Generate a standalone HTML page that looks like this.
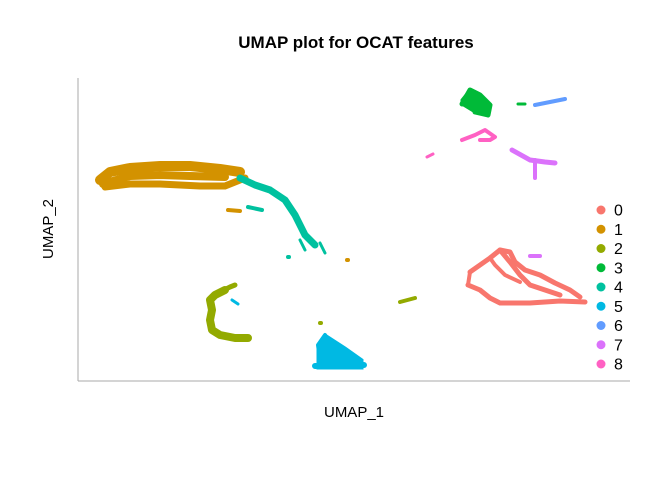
<!DOCTYPE html>
<html><head><meta charset="utf-8"><style>
body{margin:0;background:#fff;font-family:"Liberation Sans",sans-serif}
</style></head><body>
<svg id="c" width="672" height="480" xmlns="http://www.w3.org/2000/svg">
<text x="356" y="48" text-anchor="middle" font-size="17" font-weight="bold">UMAP plot for OCAT features</text>
<line x1="78" y1="78" x2="78" y2="381" stroke="#aaa"/>
<line x1="78" y1="381" x2="630" y2="381" stroke="#aaa"/>
<text x="354" y="417" text-anchor="middle" font-size="15">UMAP_1</text>
<text transform="translate(53,229) rotate(-90)" text-anchor="middle" font-size="15">UMAP_2</text>
<g id="marks"></g><g id="legend"></g>
</svg>
<script>
const clusterColors=["#F8766D","#D39200","#93AA00","#00BA38","#00C19F","#00B9E3","#619CFF","#DB72FB","#FF61C3"];
const clusterLabels=["0","1","2","3","4","5","6","7","8"];
// paths: [cluster, width, [[x,y],...]]
const clusterPaths=[
[1,10,[[2.2,20],[3.2,20.8],[5.2,21.2],[8.2,21.4],[11.2,21.4],[14.2,21.1],[16.2,20.8]]],
[1,8,[[2.5,19.6],[5.2,20.4],[8.2,20.5],[11.2,20.4],[14.7,20.3]]],
[1,7,[[2.7,19.3],[5.2,19.6],[8.2,19.6],[12.2,19.4],[14.7,19.4],[16.7,20.2]]],
[1,4,[[15,17],[16.2,16.9]]],
[1,4,[[26.9,12],[27,12]]],
[4,7,[[16.2,20.2],[17.7,19.5],[19.2,19],[20.7,18],[21.7,16.5],[22.2,15.5],[22.7,14.5],[23.7,13.5]]],
[4,4,[[17,17.3],[18.4,17]]],
[4,3,[[22.2,14],[22.7,13]]],
[4,3,[[24.2,13.7],[24.7,12.7]]],
[4,4,[[21,12.3],[21.1,12.3]]],
[2,8,[[14.7,9],[13.7,8.5],[13.2,8],[13.4,7],[13.2,6],[13.4,5],[14.2,4.5],[15.7,4.2],[17,4.2]]],
[2,5,[[14.2,8.8],[15.2,9.3],[15.7,9.5]]],
[2,4,[[32.2,7.8],[33.7,8.2]]],
[2,4,[[24.2,5.7],[24.3,5.7]]],
[5,6,[[23.7,1.4],[28.6,1.5]]],
[5,4,[[24.7,4.5],[24,3.5],[24.2,2]]],
[5,3,[[15.4,8],[16,7.6]]],
[0,5,[[39.2,10.8],[40.2,11.5],[41.2,12.2],[42.2,13],[43.2,12.8],[43.7,11.8],[44.7,11],[46.2,10.5],[47.7,9.7],[49.2,9],[50.2,8.3]]],
[0,5,[[39,9.5],[40.2,9],[41.2,8.2],[42.2,7.7],[45.2,7.7],[48.2,7.9],[50.7,7.8]]],
[0,5,[[42.2,13],[43.2,11.8],[44.2,10.5],[45.2,9.5],[46.7,9],[48.2,8.5]]],
[0,4,[[41.2,12.2],[41.7,11.5],[42.7,10.5],[44.2,9.8]]],
[0,4,[[39.2,10.8],[39,9.5]]],
[7,4,[[45.2,12.4],[46.2,12.4]]],
[7,5,[[43.4,23],[45.2,22],[46.7,21.8],[47.7,21.7]]],
[7,4,[[45.7,22],[45.7,20.2]]],
[3,5,[[38.4,27.6],[39.2,29],[40.2,28.5],[41.2,27.5],[41,26.5],[39.7,26.8]]],
[3,3,[[44,27.6],[44.7,27.6]]],
[6,4,[[45.7,27.5],[47.2,27.8],[48.7,28.1]]],
[8,4,[[38.4,24],[39.7,24.5],[40.7,25],[41.7,24.3],[41.2,24],[40.2,24]]],
[8,3,[[34.9,22.3],[35.5,22.6]]]
];
const clusterPolys=[
[5,[[24,1.2],[28.4,1.2],[28.4,2],[26.7,3.2],[24.7,4.5],[24,3.5]]],
[3,[[38.4,28],[39.2,29],[40.2,28.5],[41.2,27.5],[41,26.5],[39.7,26.8],[38.4,27.6]]]
];
const X=v=>78+v*10, Y=v=>380-v*10;
const ns="http://www.w3.org/2000/svg", g=document.getElementById('marks');
clusterPolys.forEach(([c,pts])=>{
 const p=document.createElementNS(ns,'polygon');
 p.setAttribute('points',pts.map(q=>X(q[0])+','+Y(q[1])).join(' '));
 p.setAttribute('fill',clusterColors[c]);p.setAttribute('stroke',clusterColors[c]);p.setAttribute('stroke-width','3');
 
 
 g.appendChild(p);
});
clusterPaths.forEach(([c,w,pts])=>{
 const p=document.createElementNS(ns,'polyline');
 p.setAttribute('points',pts.map(q=>X(q[0])+','+Y(q[1])).join(' '));
 p.setAttribute('fill','none');p.setAttribute('stroke',clusterColors[c]);p.setAttribute('stroke-width',w);
 p.setAttribute('stroke-linecap','round');p.setAttribute('stroke-linejoin','round');
 
 
 g.appendChild(p);
});
const lg=document.getElementById('legend');
clusterLabels.forEach((l,i)=>{
 const y=210+i*19.25;
 const c=document.createElementNS(ns,'circle');
 c.setAttribute('cx',601);c.setAttribute('cy',y);c.setAttribute('r',4.5);c.setAttribute('fill',clusterColors[i]);
 
 
 lg.appendChild(c);
 const t=document.createElementNS(ns,'text');
 t.setAttribute('x',614);t.setAttribute('y',y+5.5);t.setAttribute('font-size','16');t.textContent=l;
 
 
 lg.appendChild(t);
});
</script>
</body></html>
